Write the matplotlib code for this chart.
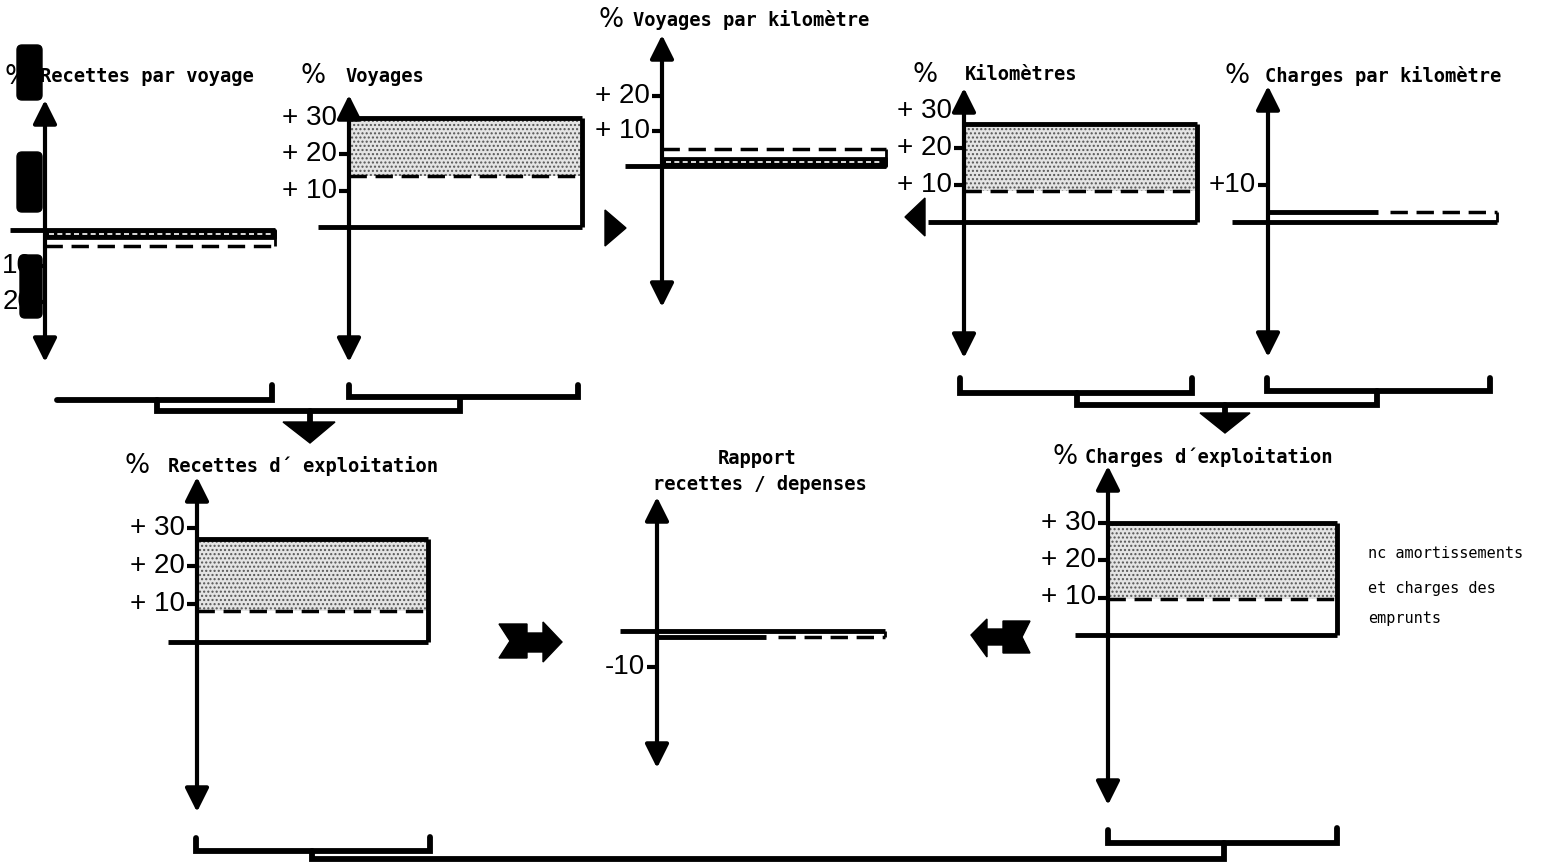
import numpy as np
import matplotlib.pyplot as plt
from matplotlib.patches import Polygon, FancyBboxPatch

W, H = 1542, 865
fig = plt.figure(figsize=(15.42, 8.65), dpi=100)

# --- data (percent changes) ---
titles = ["Recettes par voyage", "Voyages", "Voyages par kilomètre", "Kilomètres",
          "Charges par kilomètre", "Recettes d´ exploitation", "", "Charges d´exploitation"]
solid_vals = [-2.2, 30, 2.2, 26.5, 2.7, 27, -1.7, 30]
dashed_vals = [-4.5, 14, 5, 8.5, 2.7, 8.2, -1.7, 9.6]
tick_vals = [[-10, -20], [10, 20, 30], [10, 20], [10, 20, 30],
             [10], [10, 20, 30], [-10], [10, 20, 30]]
tick_labels = [["10", "20"], ["+ 10", "+ 20", "+ 30"], ["+ 10", "+ 20"],
               ["+ 10", "+ 20", "+ 30"], ["+10"], ["+ 10", "+ 20", "+ 30"],
               ["-10"], ["+ 10", "+ 20", "+ 30"]]
note_lines = ["nc amortissements", "et charges des", "emprunts"]

# --- layout in pixels: axis x, zero y, px per %, arrow top, arrow bottom, left, right
layout = [
    (45, 230, 3.6, 100, 362, 10, 275),
    (349, 227, 3.63, 95, 362, 318, 582),
    (662, 166, 3.5, 35, 307, 625, 886),
    (964, 222, 3.7, 88, 358, 928, 1197),
    (1268, 222, 3.7, 86, 357, 1232, 1497),
    (197, 642, 3.8, 477, 812, 168, 428),
    (657, 631, 3.6, 497, 768, 620, 885),
    (1108, 635, 3.75, 466, 805, 1075, 1337),
]
title_pos = [(5, 40, 77), (300, 345, 76), (598, 633, 20), (912, 965, 75),
             (1225, 1265, 76), (125, 168, 466), None, (1053, 1085, 457)]

LW = 3.5
dash = (0, (5, 2.5))
title_font = dict(family="DejaVu Sans Mono", fontweight="bold", fontsize=13.5)

# overlay in pixel coordinates for connectors and titles
ov = fig.add_axes([0, 0, 1, 1])
ov.set_xlim(0, W)
ov.set_ylim(H, 0)
ov.axis("off")

for i, (axx, y0, s, ytop, ybot, left, right) in enumerate(layout):
    ax = fig.add_axes([0, 0, 1, 1])
    ax.set_xlim(0, W)
    ax.set_ylim((y0 - H) / s, y0 / s)
    ax.axis("off")
    ax.patch.set_alpha(0)

    sv, dv = solid_vals[i], dashed_vals[i]
    if abs(sv) >= 10:
        ax.fill_between([axx, right], dv, sv, facecolor="#e4e4e4", hatch="....",
                        edgecolor="#555555", linewidth=0)
        ax.hlines(sv, axx, right, color="k", lw=LW)
        ax.vlines(right, 0, sv, color="k", lw=LW)
        ax.hlines(dv, axx, right, color="k", lw=2.5, linestyles=dash)
    elif sv != dv:
        ax.fill_between([axx, right], 0, sv, facecolor="k", edgecolor="k", linewidth=2)
        ax.hlines(sv / 2, axx + 4, right - 4, color="w", lw=1.2, linestyles=(0, (3, 2)))
        ax.hlines(dv, axx, right, color="k", lw=2.5, linestyles=dash)
        ax.vlines(right, 0, dv, color="k", lw=2)
    else:
        mid = axx + (right - axx) * 0.48
        ax.hlines(sv, axx, mid, color="k", lw=LW)
        ax.hlines(sv, mid + 12, right, color="k", lw=2.5, linestyles=dash)
        ax.vlines(right, 0, sv, color="k", lw=2)

    ax.hlines(0, left, right, color="k", lw=LW)

    ax.annotate("", xy=(axx, (y0 - ytop) / s), xytext=(axx, (y0 - ybot) / s),
                arrowprops=dict(arrowstyle="<|-|>,head_length=0.6,head_width=0.3",
                                lw=3, color="k", mutation_scale=24,
                                shrinkA=0, shrinkB=0))
    for t, lab in zip(tick_vals[i], tick_labels[i]):
        ax.hlines(t, axx - 10, axx, color="k", lw=3)
        ax.text(axx - 12, t, lab, ha="right", va="center", fontsize=20,
                family="Liberation Sans")

    if title_pos[i] is not None:
        px, tx, ty = title_pos[i]
        ov.text(px, ty, "%", ha="left", va="center", fontsize=19, family="DejaVu Sans")
        ov.text(tx, ty, titles[i], ha="left", va="center", **title_font)

ov.text(757, 459, "Rapport", ha="center", va="center", **title_font)
ov.text(760, 484, "recettes / depenses", ha="center", va="center", **title_font)

for k, line in enumerate(note_lines):
    ov.text(1368, [553, 588, 618][k], line, ha="left", va="center", fontsize=11,
            family="DejaVu Sans Mono")

# brackets
brackets = [
    [(57, 400), (272, 400), (272, 385)],
    [(349, 385), (349, 397), (578, 397), (578, 385)],
    [(157, 400), (157, 411), (460, 411), (460, 398)],
    [(960, 378), (960, 393), (1192, 393), (1192, 378)],
    [(1267, 378), (1267, 391), (1490, 391), (1490, 378)],
    [(1077, 393), (1077, 405), (1377, 405), (1377, 391)],
    [(196, 838), (196, 851), (430, 851), (430, 837)],
    [(1108, 830), (1108, 843), (1337, 843), (1337, 828)],
    [(312, 851), (312, 859), (1224, 859), (1224, 843)],
    [(310, 411), (310, 424)],
    [(1225, 405), (1225, 415)],
]
for b in brackets:
    xs, ys = zip(*b)
    ov.plot(xs, ys, color="k", lw=4.2, solid_capstyle="round", solid_joinstyle="miter")

shapes = [
    [(283, 422), (335, 422), (310, 443)],
    [(1200, 413), (1250, 413), (1225, 433)],
    [(605, 210), (626, 228), (605, 246)],
    [(925, 198), (905, 217), (925, 236)],
    [(499, 624), (527, 624), (527, 633), (543, 633), (543, 622), (562, 642),
     (543, 662), (543, 652), (527, 652), (527, 658), (499, 658), (510, 641)],
    [(971, 635), (987, 619), (987, 629), (1003, 629), (1003, 621), (1030, 621),
     (1022, 637), (1030, 653), (1003, 653), (1003, 645), (987, 645), (987, 657)],
]
for p in shapes:
    ov.add_patch(Polygon(p, closed=True, color="k"))

# black blobs (redactions on the scan)
top = fig.add_axes([0, 0, 1, 1])
top.set_xlim(0, W)
top.set_ylim(H, 0)
top.axis("off")
top.patch.set_alpha(0)
for (bx, by, bw, bh) in [(17, 45, 25, 55), (17, 152, 25, 60), (20, 255, 22, 63)]:
    top.add_patch(FancyBboxPatch((bx, by), bw, bh, boxstyle="round,pad=0,rounding_size=5",
                                 color="k"))

fig.savefig("out.png", dpi=100)
